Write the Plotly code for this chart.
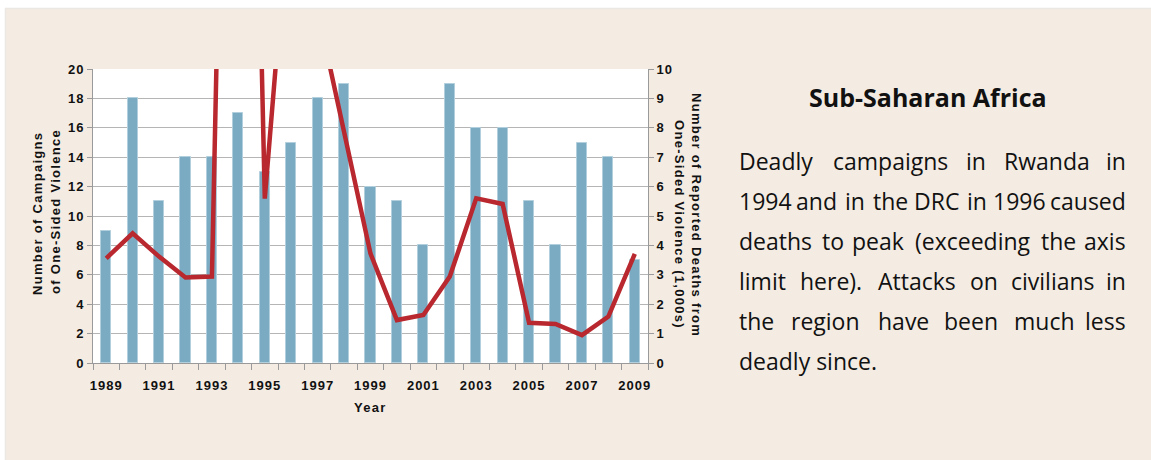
import plotly.graph_objects as go

# ---------------- data ----------------
years = list(range(1989, 2010))
campaigns = [9, 18, 11, 14, 14, 17, 13, 15, 18, 19, 12, 11, 8, 19, 16, 16, 11, 8, 15, 14, 7]
deaths_k = [3.56, 4.41, 3.62, 2.91, 2.94, 45.0, 5.59, 16.5, 12.0, 7.8, 3.72,
            1.46, 1.63, 2.94, 5.60, 5.41, 1.37, 1.33, 0.95, 1.58, 3.71]
year_ticks = [1989, 1991, 1993, 1995, 1997, 1999, 2001, 2003, 2005, 2007, 2009]
year_labels = [str(y) for y in year_ticks]
left_ticks = list(range(0, 21, 2))
right_ticks = list(range(0, 11))

# ---------------- layout geometry ----------------
W, H = 1151, 460
PX0, PX1, PY0, PY1 = 93, 648, 69, 363          # plot area in window pixels
L, R, T, B = PX0, W - PX1, PY0, H - PY1
PW, PH = W - L - R, H - T - B


def px_x(px):
    return (px - L) / PW


def px_y(py):
    return (H - B - py) / PH


BEIGE = "#F4ECE3"
BAR = "#7AABC3"
RED = "#B8282E"
AXC = "#9a9a9a"
GRID = "#b5b5b5"
AX_FONT = "Liberation Sans, Arial, sans-serif"
TXT_FONT = "Open Sans, Noto Sans, sans-serif"


def sp(s, ls=1.0):
    return '<span style="letter-spacing:%.1fpx">%s</span>' % (ls, s)


fig = go.Figure()
fig.add_trace(go.Bar(
    x=years, y=campaigns, width=0.38,
    marker=dict(color=BAR, line=dict(color="#b2cfdd", width=1)),
    yaxis="y", showlegend=False,
))
fig.add_trace(go.Scatter(
    x=years, y=deaths_k, mode="lines", yaxis="y2",
    line=dict(color=RED, width=4.5), cliponaxis=True, showlegend=False,
))

tickfont = dict(family=AX_FONT, size=13, color="#111", weight="bold")

fig.update_layout(
    width=W, height=H, autosize=False,
    margin=dict(l=L, r=R, t=T, b=B, pad=0),
    paper_bgcolor=BEIGE, plot_bgcolor="white",
    bargap=0,
    xaxis=dict(
        range=[1988.5, 2009.5], tickmode="array", tickvals=year_ticks,
        ticktext=[sp(t) for t in year_labels], ticks="", tickfont=tickfont,
        ticklabelstandoff=10,
        showline=True, linecolor=AXC, linewidth=1, showgrid=False, zeroline=False,
        minor=dict(tick0=1988.5, dtick=1, ticks="outside", ticklen=6,
                   tickcolor=AXC, tickwidth=1, showgrid=False),
    ),
    yaxis=dict(
        range=[0, 20], tickmode="array", tickvals=left_ticks,
        ticktext=[sp(str(t)) for t in left_ticks], tickfont=tickfont,
        ticks="outside", ticklen=5, tickcolor=AXC, showline=True, linecolor=AXC,
        gridcolor=GRID, gridwidth=1, zeroline=False,
    ),
    yaxis2=dict(
        range=[0, 10], overlaying="y", side="right", tickmode="array",
        tickvals=right_ticks, ticktext=[sp(str(t)) for t in right_ticks],
        tickfont=tickfont, ticks="outside", ticklen=5, tickcolor=AXC,
        showline=True, linecolor=AXC, showgrid=False, zeroline=False,
    ),
)

ann = []
axt = dict(family=AX_FONT, size=13, color="#111", weight="bold")
ann.append(dict(text=sp("Number of Campaigns", 1.3), x=px_x(37), y=px_y(214), textangle=-90))
ann.append(dict(text=sp("of One-Sided Violence", 1.3), x=px_x(55), y=px_y(212), textangle=-90))
ann.append(dict(text=sp("Number of Reported Deaths from", 1.3), x=px_x(697), y=px_y(215), textangle=90))
ann.append(dict(text=sp("One-Sided Violence (1,000s)", 1.3), x=px_x(680), y=px_y(224), textangle=90))
ann.append(dict(text=sp("Year", 1.3), x=px_x(370), y=px_y(407)))
for a in ann:
    a.update(xref="paper", yref="paper", showarrow=False, font=axt,
             xanchor="center", yanchor="middle")

txt = []
txt.append(dict(text="<b>Sub-Saharan Africa</b>", x=px_x(927.5), y=px_y(97),
                xanchor="center", font=dict(family=TXT_FONT, size=25, color="#111")))

body = dict(family=TXT_FONT, size=23, color="#111")
LEFT, RIGHT = 737, 1128
line_y = [161, 201, 241, 281, 321, 361]
# justified lines: words and centre x of the inner words
just = {
    0: (["Deadly", "campaigns", "in", "Rwanda", "in"], [890.3, 976.3, 1047.2]),
    1: (["1994", "and", "in", "the", "DRC", "in", "1996", "caused"],
        [816.7, 855, 890, 936.7, 976.7, 1019.2]),
    2: (["deaths", "to", "peak", "(exceeding", "the", "axis"], [833.3, 877.8, 973.3, 1058.3]),
    3: (["limit", "here).", "Attacks", "on", "civilians", "in"], [830.8, 917.2, 984.2, 1053.3]),
    4: (["the", "region", "have", "been", "much", "less"], [825, 903, 971.3, 1044.2]),
}
plain = {5: "deadly since."}
for i, yy in enumerate(line_y):
    if i in plain:
        txt.append(dict(text=plain[i], x=px_x(LEFT), y=px_y(yy), xanchor="left", font=body))
    else:
        words, centers = just[i]
        txt.append(dict(text=words[0], x=px_x(LEFT), y=px_y(yy), xanchor="left", font=body))
        for w, cx in zip(words[1:-1], centers):
            txt.append(dict(text=w, x=px_x(cx), y=px_y(yy), xanchor="center", font=body))
        txt.append(dict(text=words[-1], x=px_x(RIGHT), y=px_y(yy), xanchor="right", font=body))
for a in txt:
    a.update(xref="paper", yref="paper", showarrow=False, yanchor="middle")

fig.update_layout(annotations=ann + txt)

# white strips at the top and left of the beige panel, with a soft edge
shapes = [
    dict(type="rect", xref="paper", yref="paper", x0=px_x(-5), x1=px_x(1160),
         y0=px_y(8), y1=px_y(-5), fillcolor="white", line=dict(width=0), layer="below"),
    dict(type="rect", xref="paper", yref="paper", x0=px_x(-5), x1=px_x(5),
         y0=px_y(470), y1=px_y(-5), fillcolor="white", line=dict(width=0), layer="below"),
    dict(type="line", xref="paper", yref="paper", x0=px_x(5), x1=px_x(1160),
         y0=px_y(8.5), y1=px_y(8.5), line=dict(color="#ebe8e4", width=1.5), layer="below"),
    dict(type="line", xref="paper", yref="paper", x0=px_x(5.5), x1=px_x(5.5),
         y0=px_y(8.5), y1=px_y(470), line=dict(color="#ebe8e4", width=1.5), layer="below"),
]
fig.update_layout(shapes=shapes)

fig.write_html("out.html", config={"displayModeBar": False},
               post_script="document.body.style.margin='0px';")
